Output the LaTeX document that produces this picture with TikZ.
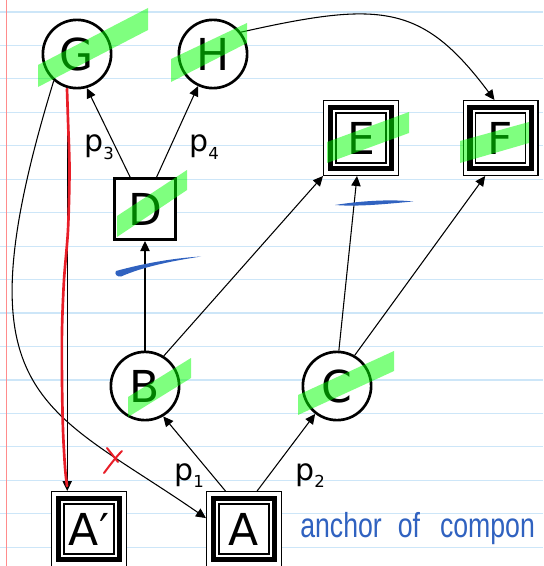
\documentclass[tikz,border=0pt]{standalone}
\usepackage{fontspec}
\setmainfont{DejaVu Sans}
\newfontfamily\inkfont{Liberation Sans}
\usetikzlibrary{arrows.meta,calc}

\definecolor{ruleblue}{RGB}{205,230,248}
\definecolor{marginred}{RGB}{255,140,140}
\definecolor{inkblue}{RGB}{48,98,192}
\definecolor{inkred}{RGB}{232,30,40}
\definecolor{hlgreen}{RGB}{0,255,0}

\newcommand\letterfont{\fontsize{33}{33}\selectfont}
\newcommand\labelfont{\fontsize{22.5}{22.5}\selectfont}
\newcommand\plab[1]{p\raisebox{-5.5pt}{\fontsize{12.4}{12.4}\selectfont #1}}

\begin{document}
\begin{tikzpicture}[x=0.75pt,y=-0.75pt,
  rule/.style={draw=ruleblue, line width=0.9pt},
  margin/.style={draw=marginred, line width=1.1pt},
  circ/.style={circle, draw, line width=2pt, fill=white, minimum size=51.2pt,
    inner sep=0pt, font=\letterfont},
  sq/.style={rectangle, draw, line width=2.25pt, fill=white, minimum size=45.75pt,
    inner sep=0pt, font=\letterfont},
  trip/.style={rectangle, draw, line width=0.9pt, fill=white, minimum size=56.1pt,
    inner sep=0pt, font=\letterfont,
    path picture={
      \draw[line width=4.1pt]
        ([shift={(5pt,-5pt)}]path picture bounding box.north west) rectangle
        ([shift={(-5pt,5pt)}]path picture bounding box.south east);
      \draw[line width=1.1pt]
        ([shift={(9.45pt,-9.45pt)}]path picture bounding box.north west) rectangle
        ([shift={(-9.45pt,9.45pt)}]path picture bounding box.south east);
    }},
  link/.style={line width=0.8pt, -{Triangle[length=7.5pt,width=7pt]}},
  plabel/.style={anchor=base west, inner sep=0pt, font=\labelfont},
  hl/.style={fill=hlgreen, fill opacity=0.5},
  redink/.style={draw=inkred, line cap=round, line join=round},
]
\useasboundingbox (0,0) rectangle (543,566);

% ruled notebook paper
\fill[white] (0,0) rectangle (543,566);
\foreach \k in {0,...,16}
  \draw[rule] (0,{12+33.45*\k}) -- (543,{12+33.45*\k});
\draw[margin] (6.5,0) -- (6.5,566);

% nodes
\node[circ] (G) at (77,54) {G};
\node[circ] (H) at (213,54) {H};
\node[sq]   (D) at (145,209) {D};
\node[trip] (E) at (361,138) {E};
\node[trip] (F) at (500.5,138) {F};
\node[circ] (B) at (145,386) {B};
\node[circ] (C) at (337,386) {C};
\node[trip] (Ap) at (89,529) {A′};
\node[trip] (A) at (244,529) {A};

% connectors
\draw[link] (D.115) -- (G.-74);
\draw[link] (D.70.6) -- (H.245);
\draw[link] (B) -- (D);
\draw[link] (B.58) -- (E.south west);
\draw[link] (C.87) -- (E.264);
\draw[link] (C.60) -- (F.248);
\draw[link] (A.116) -- (B.-59);
\draw[link] (A.71) -- (C.232);
\draw[link] (H.38) .. controls (380,1) and (422,3) .. (F.99.5);
\draw[link] (G.229) .. controls (-44,400) and (41,404) .. (A.164);
\draw[link] (G.-106) -- (G.-106 |- Ap.north);

% path labels
\node[plabel] (p3) at (84,152) {\plab{3}};
\node[plabel] (p4) at (189,152) {\plab{4}};
\node[plabel] (p1) at (174,480) {\plab{1}};
\node[plabel] (p2) at (295,480) {\plab{2}};

% highlighter marks
\fill[hl] (38,65) -- (148,8) -- (148,30) -- (38,87) -- cycle;
\fill[hl] (171,59) -- (247,23) -- (247,43) -- (171,82) -- cycle;
\fill[hl] (117,216) -- (187,170) -- (187,190) -- (117,237) -- cycle;
\fill[hl] (327,142) -- (409,112) -- (409,133) -- (327,163) -- cycle;
\fill[hl] (460,141) -- (529,122) -- (529,143) -- (460,163) -- cycle;
\fill[hl] (128,397) -- (191,358) -- (191,378) -- (128,417) -- cycle;
\fill[hl] (298,395) -- (394,351) -- (394,371) -- (298,415) -- cycle;

% red pen
\draw[redink, line width=2pt] plot[smooth] coordinates
  {(67,89) (68,120) (69.5,170) (68,230) (64,280) (62,330) (62,380) (63,430) (65,467) (67,486)};
\draw[redink, line width=1.5pt] (104,473) .. controls (110,465) and (116,457) .. (122,451);
\draw[redink, line width=1.5pt] (107,448) -- (118,462);

% blue pen
\fill[inkblue] (116,271) .. controls (145,263) and (175,258) .. (201,256.5)
  .. controls (175,260.5) and (145,266) .. (121,276.5)
  .. controls (117,277) and (114,274) .. cycle;
\fill[inkblue] (335,205) .. controls (360,201) and (390,199) .. (413,201.5)
  .. controls (390,203.5) and (360,207) .. (335,205) -- cycle;
\node[anchor=base west, inner sep=0pt, text=inkblue] (note) at (300,537)
  {\inkfont\fontsize{20}{20}\selectfont\scalebox{1}[1.3]{anchor\hspace{12pt}of\hspace{15pt}compon}};
\end{tikzpicture}
\end{document}
